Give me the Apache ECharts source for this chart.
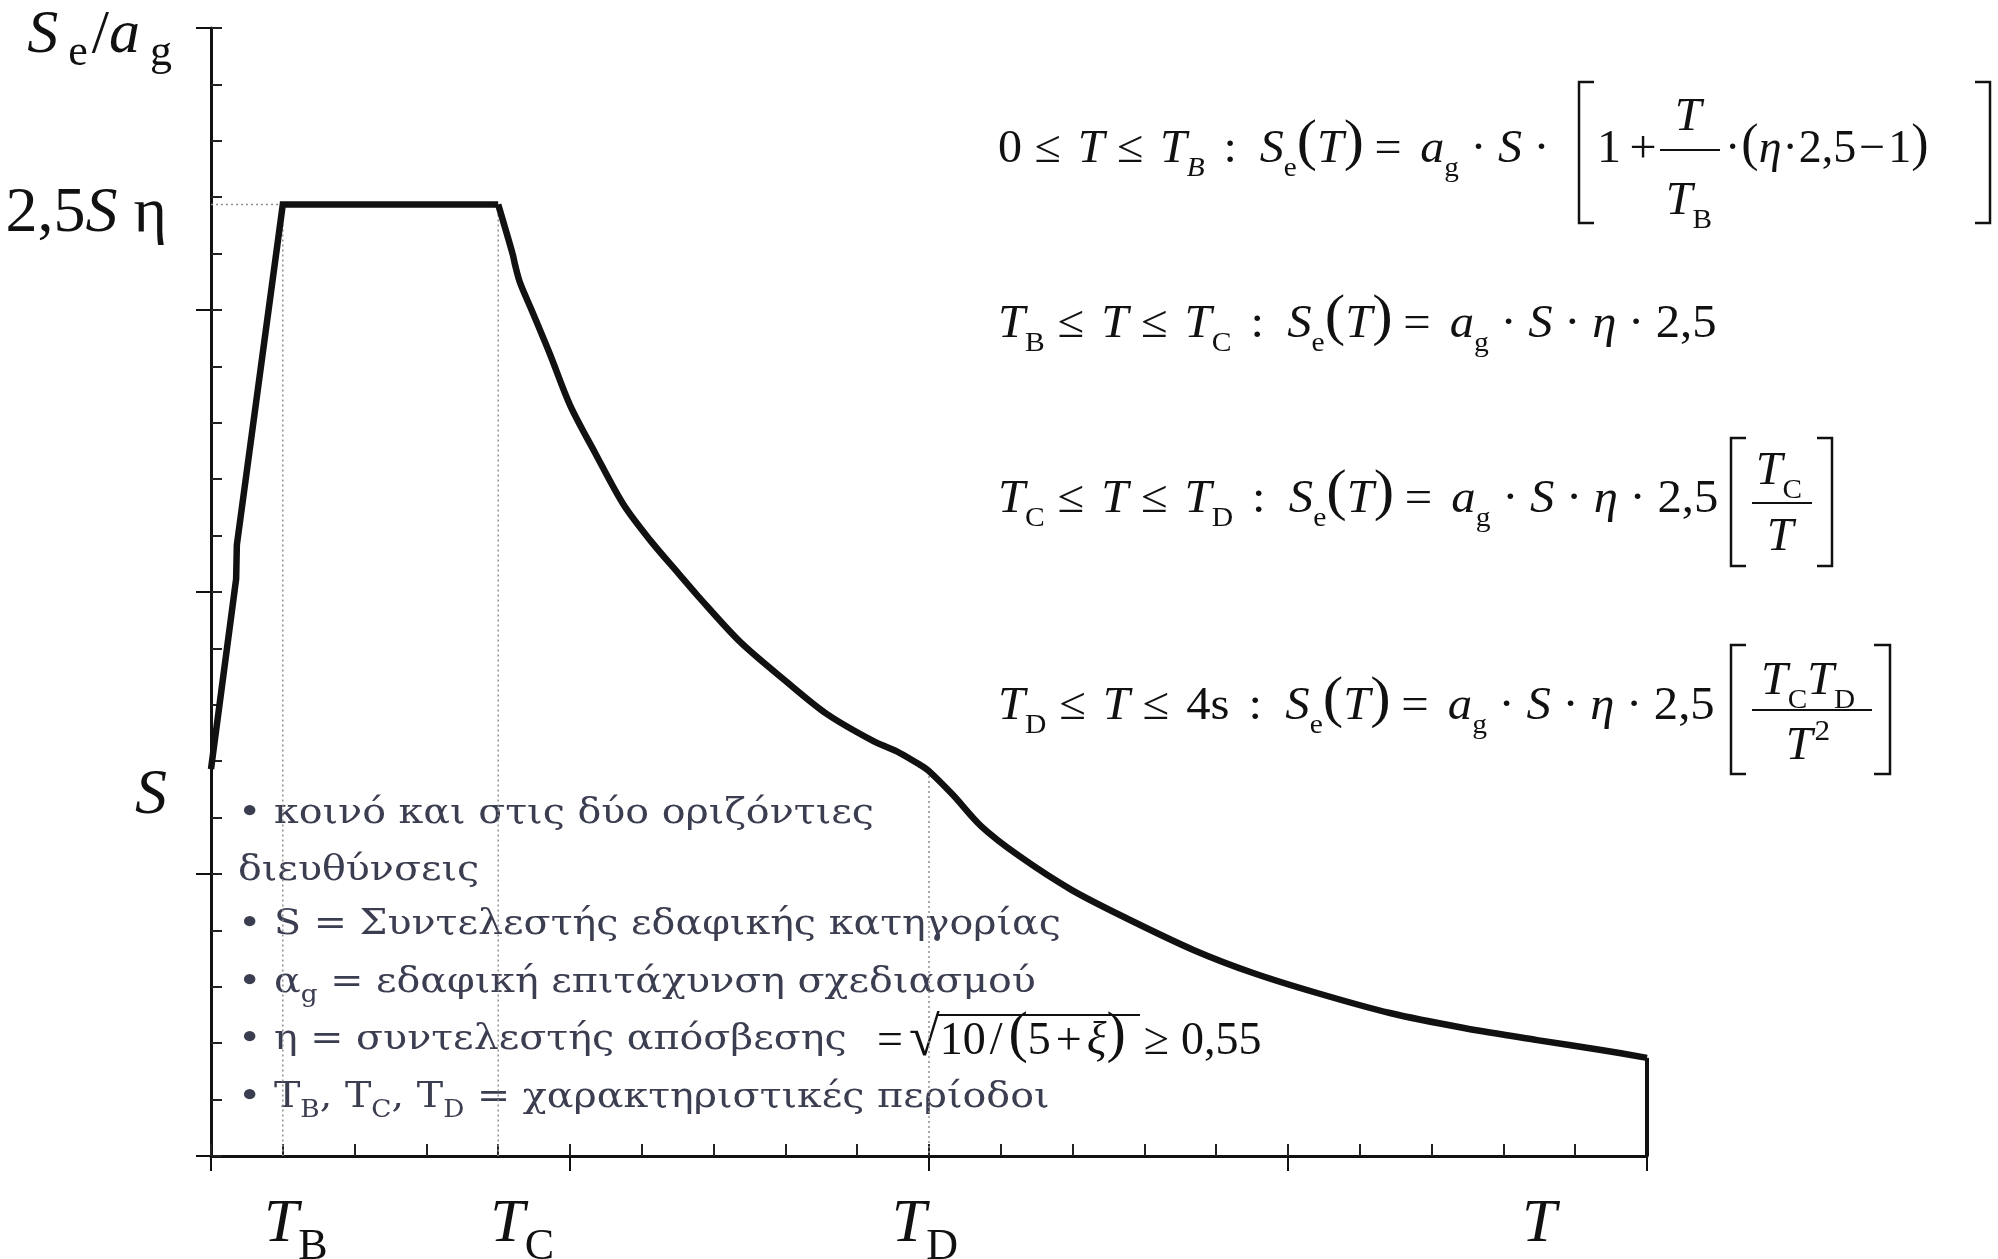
<!DOCTYPE html>
<html><head><meta charset="utf-8">
<script src="https://cdn.jsdelivr.net/npm/echarts@6/dist/echarts.min.js"></script>
<style>html,body{margin:0;padding:0;background:#fff}#c{width:1998px;height:1259px}</style>
</head><body><div id="c"></div>
<script>
// ---- data (T in s, Se/ag in y-axis major divisions) ----
const periodT  = [0, 0.07, 0.072, 0.2, 0.8, 0.841, 0.847, 0.861, 0.893, 0.944, 1.0, 1.07, 1.148, 1.223, 1.306, 1.354, 1.474, 1.604, 1.716, 1.844, 1.919, 1.975, 2.0, 2.067, 2.145, 2.251, 2.398, 2.56, 2.738, 2.903, 3.081, 3.284, 3.49, 3.694, 3.872, 4.0];
const spectrum = [1.372, 2.046, 2.167, 3.374, 3.374, 3.195, 3.16, 3.096, 3.0, 2.844, 2.663, 2.493, 2.312, 2.184, 2.06, 1.989, 1.823, 1.681, 1.567, 1.472, 1.429, 1.387, 1.365, 1.28, 1.17, 1.064, 0.943, 0.837, 0.73, 0.649, 0.578, 0.507, 0.454, 0.411, 0.376, 0.348];
const TB = 0.2, TC = 0.8, TD = 2.0;
const xLabelAt   = [TB, TC, TD, 3.7];
const xLabelText = ['{t1|T}{s|B}', '{t2|T}{s|C}', '{t|T}{s3|D}', '{t|T}'];
const yLabelText = ['{si|S}', '{n|2,5}{i|S}{n| η}'];
const notes = [
  '• κοινό και στις δύο οριζόντιες',
  'διευθύνσεις',
  '• S = Συντελεστής εδαφικής κατηγορίας',
  '• α{gs|g} = εδαφική επιτάχυνση σχεδιασμού',
  '• η = συντελεστής απόσβεσης',
  '• T{gs|B}, T{gs|C}, T{gs|D} = χαρακτηριστικές περίοδοι'
];

const plateau = spectrum[periodT.indexOf(TB)];
const sLevel  = spectrum[0];
const atTD    = spectrum[periodT.indexOf(TD)];
const iTC     = periodT.indexOf(TC);
const lastT = periodT[periodT.length - 1], lastV = spectrum[spectrum.length - 1];
const yLabelAt = [sLevel, plateau];
const pts = periodT.map(function (t, k) { return [t, spectrum[k]]; });

const FF = "'Liberation Serif','Times New Roman',serif";
const GF = "'DejaVu Serif',serif";
const INK = '#111';

function rs(size, italic, pad, extra) {
  return Object.assign({fontFamily: FF, fontSize: size, fontStyle: italic ? 'italic' : 'normal',
    fill: INK, color: INK, lineHeight: 90, padding: pad || [0, 0, 0, 0]}, extra || {});
}
const mathRich = {
  r: rs(46, false), i: rs(46, true),
  o: rs(46, false, [0, 16, 0, 12]),
  e: rs(46, false, [0, 18, 0, 10]),
  c: rs(46, false, [0, 22, 0, 18]),
  d: rs(46, false, [0, 11, 0, 11]),
  dt: rs(46, false, [0, 1, 0, 1]),
  ot: rs(46, false, [0, 3, 0, 3]),
  os: rs(46, false, [0, 6, 0, 4]),
  o5: rs(46, false, [0, 5, 0, 5]),
  op: rs(46, false, [0, 4, 0, 8]),
  og: rs(46, false, [0, 12, 0, 18]),
  p: rs(58, false, [0, 0, 12, 0]),
  pt: rs(52, false, [0, 0, 8, 0]),
  b: rs(28, false, [38, 0, 0, 0]),
  bi: rs(28, true, [38, 0, 0, 0]),
  up: rs(30, false, [0, 0, 30, 2]),
  sq: rs(56, false, [0, 0, 4, 6])
};
function mtext(x, y, text, align, sx) {
  return {type: 'text', x: x, y: y, silent: true, scaleX: sx || 1.045,
    style: {text: text, textAlign: align || 'left', textVerticalAlign: 'middle', lineHeight: 90,
      fontFamily: FF, fontSize: 46, fill: INK, rich: mathRich}};
}
function bar(x1, x2, y) {
  return {type: 'line', silent: true, shape: {x1: x1, y1: y, x2: x2, y2: y}, style: {stroke: INK, lineWidth: 2}};
}
function bracket(xOut, xIn, y1, y2) {
  return {type: 'polyline', silent: true, shape: {points: [[xIn, y1], [xOut, y1], [xOut, y2], [xIn, y2]]},
    style: {stroke: INK, lineWidth: 2.5, fill: null}};
}
const PRE = '{c|:}{i|S}{b|e}{p|(}{i|T}{p|)}{e|=}{i|a}{b|g}{d|·}{i|S}{d|·}';
const SX2 = 1.058;

const graphics = [
  // y-axis title
  {type: 'text', x: 172, y: 36, silent: true, style: {text: '{i|S}{s|e}{r|/}{i|a}{s|g}', textAlign: 'right', textVerticalAlign: 'middle', lineHeight: 90,
    rich: {i: rs(62, true), r: rs(62, false, [0, 0, 0, 4]), s: rs(44, false, [34, 0, 0, 10])}}},
  // formula 1
  mtext(998, 150, '{r|0}{o|≤}{i|T}{o|≤}{i|T}{bi|B}' + PRE),
  bracket(1579, 1594, 82, 223),
  mtext(1597, 150, '{r|1}{op|+}'),
  mtext(1688, 118, '{i|T}', 'center'),
  bar(1660, 1720, 150),
  mtext(1689, 202, '{i|T}{b|B}', 'center'),
  mtext(1724, 150, '{dt|·}{pt|(}{i|η}{dt|·}{r|2,5}{ot|−}{r|1}{pt|)}', 'left', 1.0),
  bracket(1990, 1975, 82, 223),
  // formula 2
  mtext(998, 325, '{i|T}{b|B}{o|≤}{i|T}{o|≤}{i|T}{b|C}' + PRE + '{i|η}{d|·}{r|2,5}', 'left', SX2),
  // formula 3
  mtext(998, 500, '{i|T}{b|C}{o|≤}{i|T}{o|≤}{i|T}{b|D}' + PRE + '{i|η}{d|·}{r|2,5}', 'left', SX2),
  bracket(1731, 1746, 438, 566),
  mtext(1779, 472, '{i|T}{b|C}', 'center'),
  bar(1752, 1812, 503),
  mtext(1780, 538, '{i|T}', 'center'),
  bracket(1832, 1817, 438, 566),
  // formula 4
  mtext(998, 707, '{i|T}{b|D}{o|≤}{i|T}{o|≤}{r|4s}' + PRE + '{i|η}{d|·}{r|2,5}', 'left', SX2),
  bracket(1731, 1746, 645, 774),
  mtext(1808, 682, '{i|T}{b|C}{i|T}{b|D}', 'center'),
  bar(1752, 1872, 710),
  mtext(1808, 747, '{i|T}{up|2}', 'center'),
  bracket(1890, 1874, 645, 774),
  // eta formula in notes
  mtext(877, 1042, '{r|=}{sq|√}{r|10}{os|/}{p|(}{r|5}{o5|+}{i|ξ}{p|)}{og|≥}{r|0,55}', 'left', 1.0),
  bar(937, 1140, 1015)
];
const noteY = [814, 871, 925, 983, 1040, 1098];
notes.forEach(function (t, k) {
  graphics.push({type: 'text', x: 238, y: noteY[k], silent: true, scaleX: 1.1,
    style: {text: '{g|' + t.replace(/\{gs\|(.)\}/g, '}{gs|$1}{g|') + '}', textAlign: 'left', textVerticalAlign: 'middle', lineHeight: 60,
      rich: {
        g: {fontFamily: GF, fontSize: 36, fill: '#3b3d50', lineHeight: 60},
        gs: {fontFamily: GF, fontSize: 24, fill: '#3b3d50', lineHeight: 60, padding: [26, 0, 0, 0]}
      }}});
});

function guide(data) {
  return {type: 'line', data: data, symbol: 'none', silent: true, clip: false, z: 1,
    lineStyle: {color: '#8f8f8f', width: 1.5, type: [2, 3]}};
}

const axisCommon = {type: 'value', splitLine: {show: false}};
const option = {
  animation: false,
  backgroundColor: '#fff',
  grid: {left: 211, top: 28, right: 351, bottom: 103, containLabel: false, outerBoundsMode: 'none'},
  xAxis: [
    Object.assign({}, axisCommon, {min: 0, max: 4, interval: 1, position: 'bottom',
      axisLine: {show: true, onZero: false, lineStyle: {color: INK, width: 3}},
      axisTick: {show: true, inside: false, length: 15, lineStyle: {color: INK, width: 2}},
      minorTick: {show: false},
      axisLabel: {show: true, customValues: xLabelAt, margin: 34,
        formatter: function (v) { return xLabelText[xLabelAt.indexOf(v)] || ''; },
        rich: {
          t: rs(62, true, [0, 0, 0, 0], {lineHeight: 70}),
          t1: rs(62, true, [0, 0, 0, 26], {lineHeight: 70}),
          t2: rs(62, true, [0, 0, 0, 48], {lineHeight: 70}),
          s: rs(44, false, [44, 0, 0, 0], {lineHeight: 70}),
          s3: rs(44, false, [44, 8, 0, 0], {lineHeight: 70})
        }}}),
    Object.assign({}, axisCommon, {min: 0, max: 4, interval: 1, position: 'bottom', offset: 0,
      axisLine: {show: false}, axisLabel: {show: false},
      axisTick: {show: true, inside: true, length: 12, lineStyle: {color: '#222', width: 2}},
      minorTick: {show: true, splitNumber: 5, length: 12, lineStyle: {color: '#222', width: 2}}})
  ],
  yAxis: [
    Object.assign({}, axisCommon, {min: 0, max: 4, interval: 1, position: 'left',
      axisLine: {show: true, onZero: false, lineStyle: {color: INK, width: 3}},
      axisTick: {show: true, inside: false, length: 15, lineStyle: {color: INK, width: 2}},
      minorTick: {show: false},
      axisLabel: {show: true, customValues: yLabelAt, margin: 44, align: 'right',
        formatter: function (v) { return yLabelText[yLabelAt.indexOf(v)] || ''; },
        rich: {
          n: rs(64, false, [20, 0, 0, 0], {lineHeight: 80}),
          i: rs(64, true, [20, 0, 0, 0], {lineHeight: 80}),
          si: rs(64, true, [54, 0, 0, 0], {lineHeight: 80})
        }}}),
    Object.assign({}, axisCommon, {min: 0, max: 4, interval: 1, position: 'left', offset: 0,
      axisLine: {show: false}, axisLabel: {show: false},
      axisTick: {show: true, inside: true, length: 11, lineStyle: {color: '#222', width: 2}},
      minorTick: {show: true, splitNumber: 5, length: 11, lineStyle: {color: '#222', width: 2}}})
  ],
  series: [
    guide([[0, plateau], [TB, plateau]]),
    guide([[TB, plateau], [TB, 0]]),
    guide([[TC, plateau], [TC, 0]]),
    guide([[TD, atTD], [TD, 0]]),
    {type: 'line', data: pts.slice(0, iTC + 1), symbol: 'none', silent: true, clip: false, z: 3,
      lineStyle: {color: INK, width: 6.5, join: 'miter'}},
    {type: 'line', data: pts.slice(iTC), symbol: 'none', silent: true, clip: false, z: 3,
      smooth: 0.3,
      lineStyle: {color: INK, width: 6.5, join: 'round'}},
    {type: 'line', data: [[lastT, lastV], [lastT, 0]], symbol: 'none', silent: true, clip: false, z: 3,
      lineStyle: {color: INK, width: 4}}
  ],
  graphic: graphics
};
const chart = echarts.init(document.getElementById('c'), null, {renderer: 'canvas'});
chart.setOption(option);
</script>
</body></html>
